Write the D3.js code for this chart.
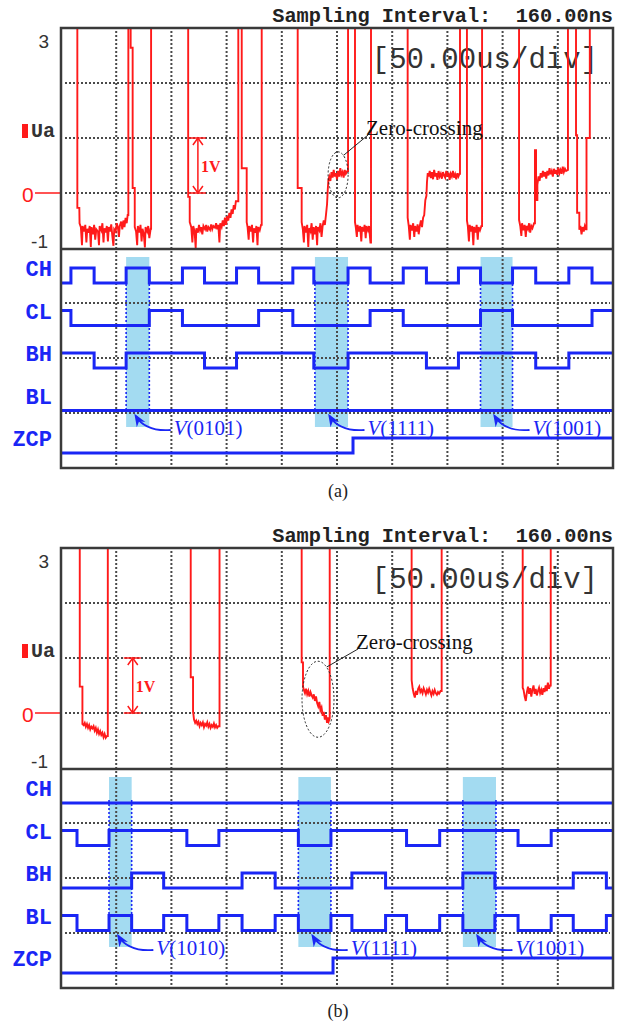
<!DOCTYPE html>
<html>
<head>
<meta charset="utf-8">
<script src="https://cdn.jsdelivr.net/npm/d3@7"></script>
<style>
  body { margin: 0; background: #fff; }
</style>
</head>
<body>
<script>
// ************************************************ //
// Chart data (time in us, 50 us per division; voltage in V)

var w = 625, h = 1023;

var timeDomain = [0, 500];
var gridTimes = [50, 100, 150, 200, 250, 300, 350, 400, 450];
var voltDomain = [-1, 3];
var voltGrid = [0, 1, 2];
var channels = ["CH", "CL", "BH", "BL", "ZCP"];
var panelNames = ["(a)", "(b)"];
var samplingText = "Sampling Interval:  160.00ns";
var divText = "[50.00us/div]";

// Ua trace, panel (a)
var uaA = [[0,3.6],[14.8,3.6],[14.8,-0.27],[16.6,-0.27],[16.8,-0.55],
  [18,-0.62],[19,-0.95],[19.6,-0.6],[21,-0.7],[22,-0.58],[23,-0.9],[23.8,-0.65],[25,-0.72],[26,-0.6],[27,-0.98],
  [27.6,-0.62],[29,-0.75],[30,-0.58],[31,-0.85],[32,-0.66],[33.5,-0.7],[34.4,-0.95],[35,-0.6],[36.5,-0.68],
  [37.5,-0.55],[38.5,-0.9],[39.3,-0.64],[40.5,-0.72],[41.5,-0.6],[42.5,-0.88],[43.3,-0.62],[44.5,-0.7],
  [45.5,-0.57],[46.5,-0.78],[47.5,-0.96],[48.2,-0.66],[49.5,-0.7],[50.5,-0.55],[51.5,-0.62],[52.5,-0.8],
  [53.2,-0.6],[54.5,-0.52],[55.5,-0.66],[56.5,-0.5],[57.5,-0.62],[58.5,-0.45],[59.5,-0.55],[60.4,-0.4],
  [61,-0.4],[61,3.6],[63.1,3.6],[63.1,2.64],[64.9,2.64],[64.9,0.09],[66.8,0.09],[66.8,-0.62],
  [68,-0.7],[69,-0.95],[69.6,-0.6],[71,-0.72],[72,-0.58],[73,-0.88],[73.8,-0.65],[75,-0.75],[76,-0.99],
  [76.6,-0.62],[78,-0.7],[79,-0.6],[80,-0.82],[81.2,-0.65],
  [81.6,-0.65],[81.6,3.6],[115.2,3.6],[115.2,-0.07],[116.6,-0.07],[116.6,-0.53],
  [118,-0.62],[119,-0.9],[119.8,-0.6],[121,-0.7],[122,-1.0],[122.6,-0.64],[124,-0.72],[125,-0.58],[126,-0.68],
  [127,-0.62],[128,-0.75],[129,-0.6],[130.5,-0.66],[131.5,-0.58],[132.5,-0.7],[133.5,-0.62],[135,-0.67],
  [136,-0.57],[137,-0.66],[138,-0.6],[139.5,-0.63],[140.5,-0.55],[141.5,-0.66],[142.5,-0.58],[143.5,-0.9],
  [144.2,-0.55],[145.5,-0.62],[146.5,-0.5],[147.5,-0.6],[148.5,-0.45],[149.5,-0.58],[150.5,-0.42],
  [151.5,-0.5],[152.5,-0.36],[153.5,-0.45],[154.5,-0.3],[155.5,-0.38],[156.5,-0.22],[157.5,-0.3],[158.4,-0.15],
  [160.6,-0.15],[160.6,3.6],[163.7,3.6],[163.7,0.45],[168.2,0.45],[168.2,-0.53],
  [169,-0.62],[170,-0.85],[170.6,-0.6],[172,-0.7],[173,-0.58],[174,-0.9],[174.7,-0.64],[176,-0.72],[177,-0.6],
  [178,-0.95],[178.6,-0.62],[180,-0.68],[181.2,-0.58],
  [181.8,-0.58],[181.8,3.6],[214.4,3.6],[214.4,0.09],[218,0.09],[218,-0.53],
  [219,-0.65],[220,-0.9],[220.6,-0.6],[222,-0.72],[223,-0.58],[224,-0.98],[224.7,-0.64],[226,-0.7],[227,-0.55],
  [228,-0.85],[228.8,-0.62],[230,-0.75],[231,-0.6],[232,-0.95],[232.6,-0.62],[234,-0.68],[235,-0.55],
  [236,-0.8],[237,-0.6],[238,-0.5],[239,-0.58],[240,-0.4],[241,-0.2],[241.6,0.05],[242.2,0.24],
  [243,0.3],[244,0.22],[245,0.38],[246,0.28],[247,0.42],[248,0.3],[249,0.36],[250,0.25],[251,0.4],[252,0.3],
  [253,0.45],[254,0.33],[255,0.38],[256,0.28],[257,0.42],[258,0.35],[259.4,0.4],
  [260,0.4],[260,3.6],[266.3,3.6],[266.3,-0.53],
  [267,-0.62],[268,-0.8],[268.6,-0.58],[270,-0.7],[271,-0.6],[272,-0.88],[272.7,-0.62],[274,-0.7],[275,-0.58],
  [276,-0.82],[276.7,-0.6],[278,-0.68],[279,-0.6],[280.3,-0.9],
  [280.8,-0.9],[280.8,3.6],[314,3.6],[314,-0.45],
  [315,-0.6],[316,-0.85],[316.6,-0.58],[318,-0.68],[319,-0.55],[320,-0.8],[320.7,-0.6],[322,-0.7],[323,-0.57],
  [324,-0.75],[325,-0.6],[326,-0.5],[327,-0.62],[328,-0.45],[329,-0.4],[330,-0.13],[331,-0.05],[331.5,0.2],
  [332.2,0.36],[333,0.3],[334,0.4],[335,0.27],[336,0.38],[337,0.25],[338,0.42],[339,0.3],[340,0.36],[341,0.24],
  [342,0.4],[343,0.3],[344,0.35],[345,0.26],[346,0.38],[347,0.32],[348,0.28],[349,0.4],[350,0.3],[351,0.37],
  [352,0.24],[353,0.35],[354,0.3],[355,0.4],[356,0.28],[357,0.34],[358,0.25],[359,0.36],[360,0.3],[361,0.35],
  [361.4,0.35],[361.4,3.6],[367.7,3.6],[367.7,-0.5],
  [368.5,-0.6],[369.5,-0.88],[370.2,-0.58],[371.5,-0.7],[372.5,-0.6],[373.5,-0.95],[374.2,-0.62],[375.5,-0.72],
  [376.5,-0.58],[377.5,-0.85],[378.2,-0.62],[379.5,-0.68],[380.8,-0.6],
  [381.4,-0.6],[381.4,3.6],[414.9,3.6],[414.9,-0.49],
  [416,-0.6],[417,-0.78],[417.6,-0.55],[419,-0.68],[420,-0.58],[421,-0.8],[421.7,-0.6],[423,-0.66],[424,-0.55],
  [425,-0.72],[426,-0.6],[427,-0.64],[428.5,-0.55],
  [429.3,-0.55],[429.3,0.78],[430.3,0.78],[430.3,-0.13],[431.5,-0.13],[431.5,0.15],[432.5,0.3],
  [433.5,0.22],[434.5,0.36],[435.5,0.28],[436.5,0.4],[437.5,0.3],[438.5,0.38],[439.5,0.26],[440.5,0.4],
  [441.5,0.32],[442.5,0.45],[443.5,0.34],[444.5,0.4],[445.5,0.3],[446.5,0.44],[447.5,0.35],[448.5,0.42],
  [449.5,0.33],[450.5,0.46],[451.5,0.36],[452.5,0.42],[453.5,0.35],[454.5,0.48],[455.5,0.38],[456.5,0.44],
  [457.5,0.4],[459.2,0.42],[459.2,3.6],[466.5,3.6],[466.5,1.05],[467.5,1.05],[467.5,-0.36],[469.5,-0.36],
  [469.5,-0.67],[470.5,-0.6],[471.5,-0.75],[472.5,-0.62],[473.5,-0.7],[474.5,-0.6],[475.5,-0.66],
  [476,-0.66],[476,1.0],[479,1.0],[479,3.6],[500,3.6]];

// Ua trace, panel (b)
var uaB = [[0,3.6],[17,3.6],[17,0.48],[19.4,0.48],[19.4,-0.2],
  [20.5,-0.22],[21.5,-0.18],[22.5,-0.25],[23.5,-0.2],[24.5,-0.27],[25.5,-0.22],[26.5,-0.3],[27.5,-0.25],
  [28.5,-0.28],[29.5,-0.24],[30.5,-0.32],[31.5,-0.27],[32.5,-0.36],[33.5,-0.3],[34.5,-0.38],[35.5,-0.33],
  [36.5,-0.4],[37.5,-0.36],[38.5,-0.44],[39.5,-0.38],[40.5,-0.45],[41.5,-0.42],
  [42.4,-0.42],[42.4,3.6],[117.5,3.6],[117.5,0.65],[119.6,0.65],[119.6,0.03],[120.5,-0.12],
  [121.5,-0.18],[122.5,-0.14],[123.5,-0.2],[124.5,-0.16],[125.5,-0.24],[126.5,-0.18],[127.5,-0.22],
  [128.5,-0.17],[129.5,-0.26],[130.5,-0.2],[131.5,-0.23],[132.5,-0.17],[133.5,-0.25],[134.5,-0.2],
  [135.5,-0.27],[136.5,-0.22],[137.5,-0.25],[138.5,-0.19],[139.5,-0.26],[140.5,-0.22],[141.5,-0.27],[142.5,-0.24],
  [143.6,-0.24],[143.6,3.6],[218,3.6],[218,0.92],[219.2,0.92],[219.2,0.48],
  [220,0.42],[221,0.36],[222,0.44],[223,0.34],[224,0.4],[225,0.3],[226,0.38],[227,0.32],[228,0.28],[229,0.34],
  [230,0.22],[231,0.3],[232,0.18],[233,0.12],[234,0.2],[235,0.05],[236,0.1],[237,-0.05],[238,0.02],
  [239,-0.12],[240,-0.04],[241,-0.18],[241.8,-0.08],[242.5,-0.15],
  [243.4,-0.1],[243.4,3.6],[317.6,3.6],[317.6,0.6],
  [318.5,0.45],[319.5,0.35],[320.5,0.28],[321.5,0.4],[322.5,0.33],[323.5,0.44],[324.5,0.48],[325.5,0.38],
  [326.5,0.42],[327.5,0.36],[328.5,0.45],[329.5,0.4],[330.5,0.34],[331.5,0.42],[332.5,0.37],[333.5,0.44],
  [334.5,0.38],[335.5,0.32],[336.5,0.4],[337.5,0.35],[338.5,0.42],[339.5,0.36],[340.5,0.33],[341.5,0.38],
  [342.5,0.35],[343.8,0.4],
  [344.8,0.4],[344.8,3.6],[418.2,3.6],[418.2,0.46],
  [419,0.42],[420,0.3],[421,0.22],[422,0.38],[423,0.48],[424,0.35],[425,0.45],[426,0.3],[427,0.42],[428,0.5],
  [429,0.35],[430,0.44],[431,0.32],[432,0.4],[433,0.46],[434,0.36],[435,0.42],[436,0.33],[437,0.45],
  [438,0.38],[439,0.5],[440,0.4],[441,0.55],[442,0.44],[443,0.5],
  [443.6,0.5],[443.6,3.6],[500,3.6]];

// digital channels: start level (1 = high) and toggle times (us)
var startA = [0, 1, 1, 0, 0];
var chEdgesA = [9, 30, 59, 80, 110, 130, 159, 179, 210, 229, 260, 280, 310, 331, 360, 380, 409, 430, 460, 481];
var clEdgesA = [9, 80, 110, 179, 210, 280, 310, 380, 409, 481];
var bhEdgesA = [30, 59, 130, 159, 229, 260, 331, 360, 430, 460];
var blEdgesA = [];
var zcpEdgesA = [264.5];

var startB = [0, 1, 0, 1, 0];
var chEdgesB = [];
var clEdgesB = [14.5, 43.5, 114, 143, 215, 244.5, 313, 343, 414, 444];
var bhEdgesB = [64, 93, 164, 194, 263.5, 294, 364, 393, 464, 494];
var blEdgesB = [14.5, 43.5, 64, 93, 114, 143, 164, 194, 215, 244.5, 263.5, 294, 313, 343, 364, 393, 414, 444, 464, 494];
var zcpEdgesB = [246.4];

// highlighted switching states [start, end] in us with their vector names
var shadesA = [[59, 80], [230, 260], [380, 409]];
var vectorsA = ["0101", "1111", "1001"];
var shadesB = [[43.5, 64], [215, 244.5], [364, 394]];
var vectorsB = ["1010", "1111", "1001"];

// zero-crossing mark [time, volt] and the 1V scale arrow time
var zeroA = [251, 0.33], zeroB = [232.8, 0.25];
var oneVoltA = 124, oneVoltB = 65;

// colours
var red = "#ff1a1a", blue = "#1a26f5", shade = "#a3dbf1", frame = "#3a3a3a", gridCol = "#4a4a4a";

// ************************************************ //
window.onload = function(){
  var svg = d3.select("body").append("svg")
    .attr("width", w)
    .attr("height", h)
    .style("font-family", "'Liberation Mono', monospace");

  // arrow head for the vector labels
  var defs = svg.append("defs");
  defs.append("marker")
    .attr("id", "arrow")
    .attr("viewBox", "0 0 10 10")
    .attr("refX", 8).attr("refY", 5)
    .attr("markerWidth", 7).attr("markerHeight", 7)
    .attr("orient", "auto")
    .append("path")
    .attr("d", "M0,1 L10,5 L0,9 L3,5 Z")
    .attr("fill", blue);

  var x = d3.scaleLinear().domain(timeDomain).range([61, 613]);

  drawPanel(svg, defs, x, {
    top: 28, id: "a", ua: uaA, starts: startA,
    edges: [chEdgesA, clEdgesA, bhEdgesA, blEdgesA, zcpEdgesA],
    shades: shadesA, vectors: vectorsA, zero: zeroA, zeroR: [10, 23],
    zeroText: [366, 135], oneV: oneVoltA, name: panelNames[0]
  });
  drawPanel(svg, defs, x, {
    top: 548, id: "b", ua: uaB, starts: startB,
    edges: [chEdgesB, clEdgesB, bhEdgesB, blEdgesB, zcpEdgesB],
    shades: shadesB, vectors: vectorsB, zero: zeroB, zeroR: [16, 38],
    zeroText: [356, 649], oneV: oneVoltB, name: panelNames[1]
  });
};

function drawPanel(svg, defs, x, p){
  var top = p.top, bottom = top + 440, left = 61, right = 613;
  var g = svg.append("g");

  // scales: analog volts, grid divisions, digital channels
  var yv = d3.scaleLinear().domain(voltDomain).range([top + 220, top]);
  var yd = d3.scaleLinear().domain([0, 8]).range([top, bottom]);
  var yc = d3.scalePoint().domain(channels).range([top + 240, top + 410]);

  // clip for the analog window
  defs.append("clipPath").attr("id", "clip" + p.id)
    .append("rect")
    .attr("x", left).attr("y", top)
    .attr("width", right - left).attr("height", 220);

  // header text
  g.append("text")
    .attr("x", right).attr("y", top - 6)
    .attr("text-anchor", "end")
    .style("white-space", "pre")
    .style("font-size", "20.3px")
    .style("font-weight", "bold")
    .attr("fill", "#222")
    .text(samplingText);

  // light blue highlighted vectors
  g.selectAll(".shade").data(p.shades).enter()
    .append("rect")
    .attr("x", function(d){ return x(d[0]); })
    .attr("width", function(d){ return x(d[1]) - x(d[0]); })
    .attr("y", top + 229)
    .attr("height", 170)
    .attr("fill", shade);

  // dotted grid
  g.selectAll(".vgrid").data(gridTimes).enter()
    .append("line")
    .attr("x1", function(d){ return x(d); }).attr("x2", function(d){ return x(d); })
    .attr("y1", top + 3).attr("y2", bottom - 3)
    .attr("stroke", gridCol).attr("stroke-width", 2)
    .attr("stroke-dasharray", "2,2");
  var hg = voltGrid.map(function(v){ return yv(v); })
    .concat([5, 6, 7].map(function(d){ return yd(d); }));
  g.selectAll(".hgrid").data(hg).enter()
    .append("line")
    .attr("x1", left + 4).attr("x2", right - 3)
    .attr("y1", function(d){ return d; }).attr("y2", function(d){ return d; })
    .attr("stroke", gridCol).attr("stroke-width", 2)
    .attr("stroke-dasharray", "2,2");

  // "[50.00us/div]"
  g.append("text")
    .attr("x", 598).attr("y", top + 40)
    .attr("text-anchor", "end")
    .style("font-size", "29px")
    .attr("fill", "#333")
    .text(divText);

  // Ua trace
  var uaLine = d3.line()
    .x(function(d){ return x(d[0]); })
    .y(function(d){ return yv(d[1]); });
  g.append("path")
    .datum(p.ua)
    .attr("clip-path", "url(#clip" + p.id + ")")
    .attr("d", uaLine)
    .attr("fill", "none")
    .attr("stroke", red)
    .attr("stroke-width", 1.9);

  // blue dotted lines on shade edges
  p.shades.forEach(function(s){
    s.forEach(function(t){
      g.append("line")
        .attr("x1", x(t)).attr("x2", x(t))
        .attr("y1", top + 252).attr("y2", top + 384)
        .attr("stroke", blue).attr("stroke-width", 1.6)
        .attr("stroke-dasharray", "2,2");
    });
  });

  // digital step traces
  var stepLine = d3.line()
    .x(function(d){ return x(d[0]); })
    .y(function(d){ return d[1]; })
    .curve(d3.curveStepAfter);
  channels.forEach(function(name, i){
    var lvl = p.starts[i];
    var yHigh = yc(name), yLow = yc(name) + 15;
    var pts = [[timeDomain[0], lvl ? yHigh : yLow]];
    p.edges[i].forEach(function(t){
      lvl = 1 - lvl;
      pts.push([t, lvl ? yHigh : yLow]);
    });
    pts.push([timeDomain[1], lvl ? yHigh : yLow]);
    g.append("path")
      .datum(pts)
      .attr("d", stepLine)
      .attr("fill", "none")
      .attr("stroke", blue)
      .attr("stroke-width", 3);

    // channel label
    g.append("text")
      .attr("x", 52).attr("y", yHigh + 8)
      .attr("text-anchor", "end")
      .style("font-size", "22px")
      .style("font-weight", "bold")
      .attr("fill", blue)
      .text(name);
  });

  // vector labels with curved arrows
  p.shades.forEach(function(s, i){
    var tipX = (x(s[0]) + x(s[1])) / 2 - 2, tipY = top + 388;
    var tx = tipX + 38, ty = top + 407;
    g.append("path")
      .attr("d", "M" + (tx - 3) + "," + (ty - 5) + " Q" + (tipX + 10) + "," + (ty - 3) + " " + tipX + "," + tipY)
      .attr("fill", "none")
      .attr("stroke", blue)
      .attr("stroke-width", 1.8)
      .attr("marker-end", "url(#arrow)");
    var lab = g.append("text")
      .attr("x", tx).attr("y", ty)
      .style("font-family", "'Liberation Serif', serif")
      .style("font-size", "21px")
      .attr("fill", blue);
    lab.append("tspan").style("font-style", "italic").text("V");
    lab.append("tspan").text("(" + p.vectors[i] + ")");
  });

  // zero-crossing ellipse and label
  var zx = x(p.zero[0]), zy = yv(p.zero[1]);
  g.append("ellipse")
    .attr("cx", zx).attr("cy", zy)
    .attr("rx", p.zeroR[0]).attr("ry", p.zeroR[1])
    .attr("fill", "none").attr("stroke", "#222")
    .attr("stroke-width", 1).attr("stroke-dasharray", "2,2");
  g.append("line")
    .attr("x1", zx + p.zeroR[0] * 0.55).attr("y1", zy - p.zeroR[1] * 0.85)
    .attr("x2", p.zeroText[0] + 2).attr("y2", p.zeroText[1])
    .attr("stroke", "#222").attr("stroke-width", 1);
  g.append("text")
    .attr("x", p.zeroText[0]).attr("y", p.zeroText[1])
    .style("font-family", "'Liberation Serif', serif")
    .style("font-size", "21px")
    .attr("fill", "#111")
    .text("Zero-crossing");

  // 1V scale arrow
  var ax = x(p.oneV);
  g.append("line").attr("x1", ax).attr("x2", ax)
    .attr("y1", yv(1)).attr("y2", yv(0))
    .attr("stroke", red).attr("stroke-width", 1.5);
  [1, 0].forEach(function(v){
    g.append("line").attr("x1", ax - 9).attr("x2", ax + 8)
      .attr("y1", yv(v)).attr("y2", yv(v))
      .attr("stroke", red).attr("stroke-width", 1.5);
  });
  g.append("path")
    .attr("d", "M" + (ax - 5) + "," + (yv(1) + 7) + " L" + ax + "," + yv(1) + " L" + (ax + 5) + "," + (yv(1) + 7) +
      " M" + (ax - 5) + "," + (yv(0) - 7) + " L" + ax + "," + yv(0) + " L" + (ax + 5) + "," + (yv(0) - 7))
    .attr("fill", "none").attr("stroke", red).attr("stroke-width", 1.5);
  g.append("text")
    .attr("x", ax + 3).attr("y", yv(0.5) + 6)
    .style("font-family", "'Liberation Serif', serif")
    .style("font-size", "16px").style("font-weight", "bold")
    .attr("fill", red)
    .text("1V");

  // left labels for the analog channel
  g.append("text").attr("x", 49).attr("y", yv(3) + 20)
    .attr("text-anchor", "end")
    .style("font-family", "'Liberation Sans', sans-serif").style("font-size", "19px")
    .attr("fill", "#333").text("3");
  g.append("text").attr("x", 48).attr("y", yv(-1))
    .attr("text-anchor", "end")
    .style("font-family", "'Liberation Sans', sans-serif").style("font-size", "19px")
    .attr("fill", "#333").text("-1");
  g.append("text").attr("x", 22).attr("y", yv(0) + 9)
    .style("font-family", "'Liberation Sans', sans-serif").style("font-size", "21px")
    .attr("fill", red).text("0");
  g.append("line").attr("x1", 35).attr("x2", left)
    .attr("y1", yv(0)).attr("y2", yv(0))
    .attr("stroke", red).attr("stroke-width", 1.5);
  g.append("rect").attr("x", 22).attr("y", yv(1) - 14)
    .attr("width", 6).attr("height", 14).attr("fill", red);
  g.append("text").attr("x", 31).attr("y", yv(1) - 1)
    .style("font-size", "20px").style("font-weight", "bold")
    .attr("fill", "#333").text("Ua");

  // separator and frame
  g.append("line").attr("x1", left).attr("x2", right)
    .attr("y1", top + 221).attr("y2", top + 221)
    .attr("stroke", frame).attr("stroke-width", 2.5);
  g.append("rect")
    .attr("x", left).attr("y", top)
    .attr("width", right - left).attr("height", bottom - top)
    .attr("fill", "none").attr("stroke", frame).attr("stroke-width", 2.5);

  // panel caption
  g.append("text")
    .attr("x", 338).attr("y", bottom + 29)
    .attr("text-anchor", "middle")
    .style("font-family", "'Liberation Serif', serif")
    .style("font-size", "18px")
    .attr("fill", "#222")
    .text(p.name);
}
</script>
</body>
</html>
